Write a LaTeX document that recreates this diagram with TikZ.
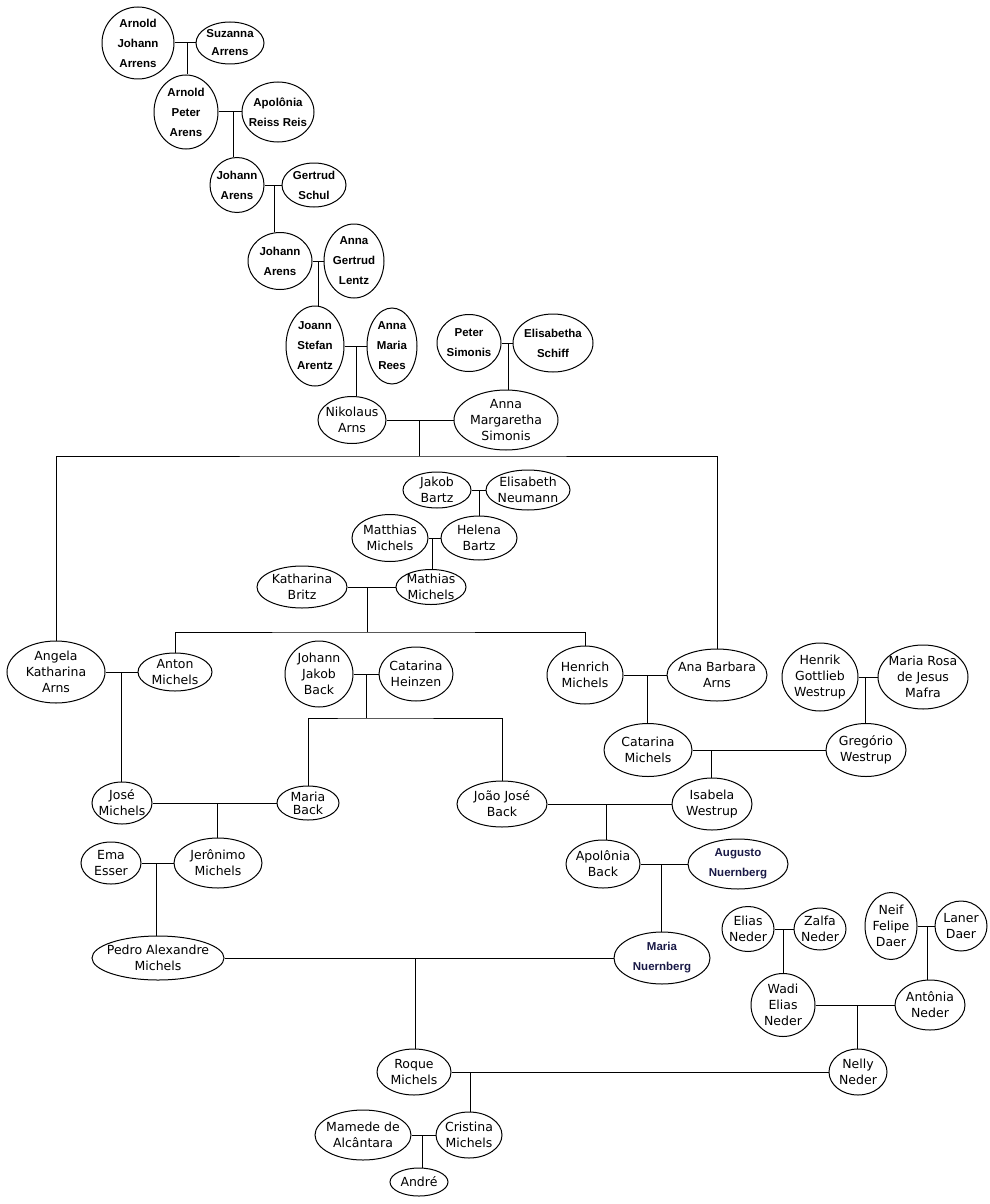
\documentclass[tikz,border=0pt]{standalone}
\usepackage{fontspec}
\setmainfont{DejaVu Sans}
\newfontfamily\arialfam{Liberation Sans}
\usetikzlibrary{shapes.geometric}

\definecolor{azulnuern}{RGB}{25,25,70}

\tikzset{
  pessoa/.style={draw, ellipse, inner sep=0pt},
  nome/.style={align=center, inner sep=0pt, font=\fontsize{12.5}{16}\selectfont},
  nomec/.style={nome, font=\fontsize{12.5}{13}\selectfont},
  nomeb/.style={align=center, inner sep=0pt, font=\arialfam\bfseries\fontsize{11.5}{20}\selectfont},
  nomebc/.style={nomeb, font=\arialfam\bfseries\fontsize{11.5}{18}\selectfont},
  nomeaz/.style={nomeb, text=azulnuern}
}

% #1 estilo del texto, #2 nombre, #3 centro, #4 ancho, #5 alto, #6 texto
\newcommand{\pessoa}[6][nome]{%
  \node[pessoa, minimum width=#4, minimum height=#5] (#2) at (#3) {};
  \node[#1] (#2-t) at (#2) {#6};}

\begin{document}
\begin{tikzpicture}[x=1pt, y=-1pt, line width=1pt]
  \useasboundingbox (0,0) rectangle (989,1204);

  % Rama Arens
  \pessoa[nomeb]{arnoldj}{138,43}{72}{72}{Arnold\\Johann\\Arrens}
  \pessoa[nomebc]{suzanna}{230,43}{68}{42}{Suzanna\\Arrens}
  \pessoa[nomeb]{arnoldp}{186,112}{64}{74}{Arnold\\Peter\\Arens}
  \pessoa[nomeb]{apolonia}{278,112}{72}{60}{Apolônia\\Reiss Reis}
  \pessoa[nomeb]{johann1}{237,185}{54}{55}{Johann\\Arens}
  \pessoa[nomeb]{gertrud}{314,185}{64}{44}{Gertrud\\Schul}
  \pessoa[nomeb]{johann2}{280,261}{64}{57}{Johann\\Arens}
  \pessoa[nomeb]{annag}{354,261}{60}{74}{Anna\\Gertrud\\Lentz}
  \pessoa[nomeb]{joann}{315,346}{58}{80}{Joann\\Stefan\\Arentz}
  \pessoa[nomeb]{annam}{392,346}{50}{76}{Anna\\Maria\\Rees}
  \pessoa[nomeb]{peter}{469,343}{64}{57}{Peter\\Simonis}
  \pessoa[nomeb]{elisabetha}{553,343}{80}{58}{Elisabetha\\Schiff}
  \pessoa{nikolaus}{352,420}{68}{47}{Nikolaus\\Arns}
  \pessoa{annamarg}{506,420}{104}{60}{Anna\\Margaretha\\Simonis}

  % Rama Michels
  \pessoa{jakob}{437,490}{68}{36}{Jakob\\Bartz}
  \pessoa{elisabeth}{528,490}{84}{40}{Elisabeth\\Neumann}
  \pessoa{matthias}{390,538}{76}{47}{Matthias\\Michels}
  \pessoa{helena}{479,538}{76}{44}{Helena\\Bartz}
  \pessoa{katharina}{302,587}{90}{42}{Katharina\\Britz}
  \pessoa{mathias}{431,587}{70}{35}{Mathias\\Michels}
  \pessoa{angela}{56,672}{98}{62}{Angela\\Katharina\\Arns}
  \pessoa{anton}{175,672}{74}{38}{Anton\\Michels}
  \pessoa{johannj}{319,674}{68}{66}{Johann\\Jakob\\Back}
  \pessoa{catarinah}{416,674}{74}{54}{Catarina\\Heinzen}
  \pessoa{henrich}{585,675}{76}{58}{Henrich\\Michels}
  \pessoa{anabarbara}{717,675}{100}{52}{Ana Barbara\\Arns}
  \pessoa{henrik}{820,677}{76}{68}{Henrik\\Gottlieb\\Westrup}
  \pessoa{mariarosa}{923,677}{90}{64}{Maria Rosa\\de Jesus\\Mafra}
  \pessoa{catarinam}{648,750}{88}{53}{Catarina\\Michels}
  \pessoa{gregorio}{866,750}{80}{53}{Gregório\\Westrup}
  \pessoa{jose}{122,803}{60}{42}{José\\Michels}
  \pessoa[nomec]{mariab}{308,803}{62}{34}{Maria\\Back}
  \pessoa{joaojose}{502,804}{90}{46}{João José\\Back}
  \pessoa{isabela}{712,804}{80}{52}{Isabela\\Westrup}
  \pessoa{ema}{111,863}{60}{42}{Ema\\Esser}
  \pessoa{jeronimo}{218,863}{88}{50}{Jerônimo\\Michels}
  \pessoa{apoloniab}{603,864}{74}{48}{Apolônia\\Back}
  \pessoa[nomeaz]{augusto}{738,864}{100}{50}{Augusto\\Nuernberg}
  \pessoa{pedro}{158,958}{132}{44}{Pedro Alexandre\\Michels}
  \pessoa[nomeaz]{marian}{662,958}{96}{52}{Maria\\Nuernberg}

  % Rama Neder
  \pessoa{elias}{748,929}{52}{45}{Elias\\Neder}
  \pessoa{zalfa}{820,929}{52}{42}{Zalfa\\Neder}
  \pessoa{neif}{891,926}{52}{67}{Neif\\Felipe\\Daer}
  \pessoa{laner}{961,926}{52}{50}{Laner\\Daer}
  \pessoa{wadi}{783,1005}{64}{63}{Wadi\\Elias\\Neder}
  \pessoa{antonia}{930,1005}{70}{50}{Antônia\\Neder}
  \pessoa{roque}{414,1072}{74}{46}{Roque\\Michels}
  \pessoa{nelly}{858,1072}{58}{46}{Nelly\\Neder}
  \pessoa{mamede}{363,1135}{96}{50}{Mamede de\\Alcântara}
  \pessoa{cristina}{469,1135}{66}{46}{Cristina\\Michels}
  \pessoa{andre}{419,1182}{58}{28}{André}

  % Casamientos
  \foreach \a/\b in {arnoldj/suzanna, arnoldp/apolonia, johann1/gertrud,
      johann2/annag, joann/annam, peter/elisabetha, nikolaus/annamarg,
      jakob/elisabeth, matthias/helena, katharina/mathias, angela/anton,
      johannj/catarinah, henrich/anabarbara, henrik/mariarosa,
      catarinam/gregorio, jose/mariab, joaojose/isabela, ema/jeronimo,
      apoloniab/augusto, pedro/marian, elias/zalfa, neif/laner,
      wadi/antonia, roque/nelly, mamede/cristina}
    \draw (\a) -- (\b);

  % Puntos de union
  \foreach \u/\x/\y in {u1/187/43, u2/233/112, u3/274/185, u4/318/261,
      u5/356/346, u6/508/343, u7/419/420, u8/479/490, u9/432/538,
      u10/367/587, u11/121/672, u12/366/674, u13/647/675, u14/865/677,
      u15/711/750, u16/217/803, u17/606/804, u18/156/863, u19/661/864,
      u20/783/929, u21/927/926, u22/857/1005, u23/415/958, u24/470/1072,
      u25/422/1135}
    \coordinate (\u) at (\x,\y);
  \coordinate (b7) at (419,456);
  \coordinate (b10) at (367,632);
  \coordinate (b12) at (366,718);

  % Hijos
  \foreach \u/\f in {u1/arnoldp, u2/johann1, u3/johann2, u4/joann,
      u5/nikolaus, u6/annamarg, u8/helena, u9/mathias, u11/jose,
      u13/catarinam, u14/gregorio, u15/isabela, u16/jeronimo,
      u17/apoloniab, u18/pedro, u19/marian, u20/wadi, u21/antonia,
      u22/nelly, u23/roque, u24/cristina, u25/andre}
    \draw (\u) -- (\u |- \f.north);

  % Hermanos
  \draw (u7) -- (b7);
  \draw (angela.north) |- (b7) -| (anabarbara.north);
  \draw (u10) -- (b10);
  \draw (anton.north) |- (b10) -| (henrich.north);
  \draw (u12) -- (b12);
  \draw (mariab.north) |- (b12) -| (joaojose.north);
\end{tikzpicture}
\end{document}
